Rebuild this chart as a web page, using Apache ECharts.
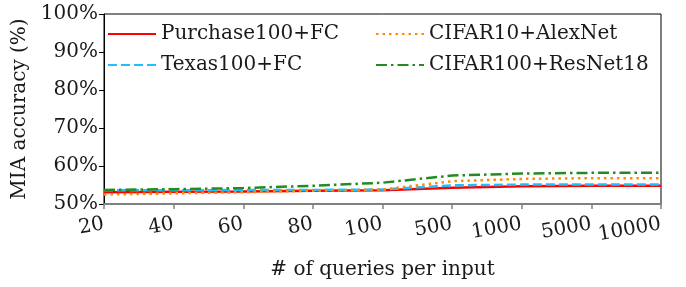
<!DOCTYPE html>
<html>
<head>
<meta charset="utf-8">
<script src="https://cdn.jsdelivr.net/npm/echarts@6/dist/echarts.min.js"></script>
<style>
  html, body { margin: 0; padding: 0; background: #fff; }
  #chart { width: 686px; height: 287px; }
</style>
</head>
<body>
<div id="chart"></div>
<script>
// queries per input (categorical x axis)
var queries = ['20', '40', '60', '80', '100', '500', '1000', '5000', '10000'];

// MIA accuracy (%)
var purchase = [53.1, 53.2, 53.3, 53.5, 53.6, 54.3, 54.7, 54.8, 54.8];
var texas    = [53.6, 53.6, 53.7, 53.7, 53.8, 54.9, 55.1, 55.1, 55.1];
var cifar10  = [52.5, 52.8, 53.1, 53.5, 53.8, 56.0, 56.6, 56.8, 56.8];
var cifar100 = [53.7, 53.9, 54.2, 54.8, 55.6, 57.5, 58.0, 58.2, 58.2];

var yTicks = [50, 60, 70, 80, 90, 100];

var font = 'DejaVu Serif';
var chart = echarts.init(document.getElementById('chart'));

function line(name, data, color, type) {
    return {
        name: name,
        type: 'line',
        data: data,
        symbol: 'none',
        lineStyle: { color: color, width: 2.5, type: type },
        itemStyle: { color: color }
    };
}

var legendBase = {
    orient: 'vertical',
    top: 24,
    padding: 0,
    itemWidth: 48,
    itemHeight: 14,
    itemGap: 11,
    itemStyle: { opacity: 0 },
    textStyle: { fontFamily: font, fontSize: 20, color: '#1a1a1a' }
};

var option = {
    animation: false,
    grid: {
        left: 104, right: 25, top: 14, bottom: 83,
        show: true, borderColor: '#000', borderWidth: 1
    },
    legend: [
        Object.assign({ data: ['Purchase100+FC', 'Texas100+FC'], left: 107 }, legendBase),
        Object.assign({ data: ['CIFAR10+AlexNet', 'CIFAR100+ResNet18'], left: 375 }, legendBase)
    ],
    xAxis: {
        type: 'category',
        data: queries,
        boundaryGap: false,
        name: '# of queries per input',
        nameLocation: 'middle',
        nameGap: 56,
        nameTextStyle: { fontFamily: font, fontSize: 20, color: '#1a1a1a' },
        axisLine: { lineStyle: { color: '#808080', width: 2 } },
        axisTick: { inside: false, length: 5, lineStyle: { color: '#808080', width: 1.5 } },
        axisLabel: { interval: 0, hideOverlap: false, rotate: 10, margin: 20, fontFamily: font, fontSize: 20, color: '#1a1a1a' },
        splitLine: { show: false }
    },
    yAxis: {
        type: 'value',
        min: yTicks[0],
        max: yTicks[yTicks.length - 1],
        interval: 10,
        name: 'MIA accuracy (%)',
        nameLocation: 'middle',
        nameGap: 70,
        nameTextStyle: { fontFamily: font, fontSize: 20, color: '#1a1a1a' },
        axisLine: { show: true, lineStyle: { color: '#000', width: 1 } },
        axisTick: { show: true, length: 5, lineStyle: { color: '#000' } },
        axisLabel: { formatter: '{value}%', margin: 6, fontFamily: font, fontSize: 20, color: '#1a1a1a' },
        splitLine: { show: false }
    },
    series: [
        line('Purchase100+FC', purchase, '#ff0000', 'solid'),
        line('Texas100+FC', texas, '#1fbfff', [9, 4]),
        line('CIFAR10+AlexNet', cifar10, '#ff8c00', [2.5, 4]),
        line('CIFAR100+ResNet18', cifar100, '#228b22', [11, 4, 2.5, 4])
    ]
};

chart.setOption(option);
</script>
</body>
</html>
